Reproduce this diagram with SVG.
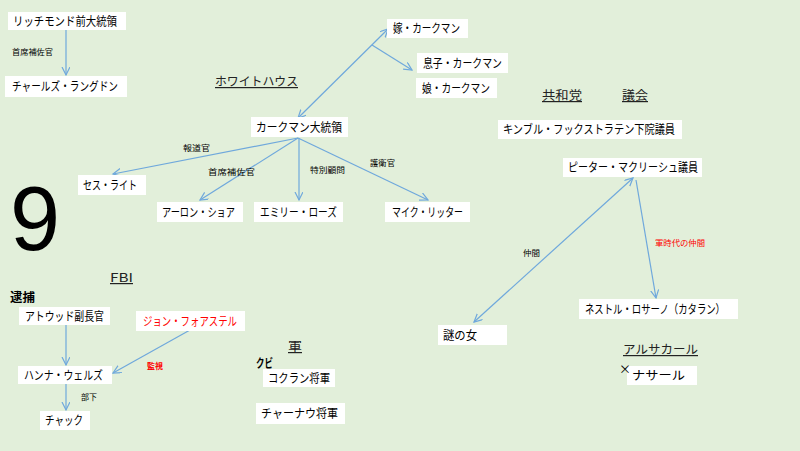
<svg xmlns="http://www.w3.org/2000/svg" width="800" height="451" viewBox="0 0 800 451">
<style>
.bx{fill:#ffffff;stroke:none}
.t{font-family:"Noto Sans CJK JP","Noto Sans",sans-serif;font-size:12px;fill:#000}
.h{font-family:"Noto Sans CJK JP","Noto Sans",sans-serif;font-size:12px;fill:#222;text-decoration:underline}
.s{font-family:"Noto Sans CJK JP","Noto Sans",sans-serif;font-size:8px;fill:#000}
.r{fill:#ff0000}
.c{stroke:#6fa8dc;stroke-width:1.2;fill:none}
</style>
<defs>
<marker id="ah" markerWidth="10" markerHeight="10" refX="8" refY="4" orient="auto-start-reverse" markerUnits="userSpaceOnUse">
<path d="M0,0 L8,4 L0,8" fill="none" stroke="#6fa8dc" stroke-width="1.2"/>
</marker>
</defs>
<rect width="800" height="451" fill="#e2efda"/>

<text x="10" y="250" font-family="Liberation Sans,Arial,sans-serif" font-size="90" fill="#000">9</text>

<g id="connectors">
<line class="c" x1="66" y1="30" x2="66" y2="75" marker-end="url(#ah)"/>
<line class="c" x1="298" y1="118" x2="388" y2="29" marker-start="url(#ah)" marker-end="url(#ah)"/>
<line class="c" x1="372" y1="45" x2="412" y2="70" marker-end="url(#ah)"/>
<line class="c" x1="298" y1="138" x2="113" y2="174" marker-end="url(#ah)"/>
<line class="c" x1="298" y1="138" x2="200" y2="200" marker-end="url(#ah)"/>
<line class="c" x1="299" y1="138" x2="299" y2="200" marker-end="url(#ah)"/>
<line class="c" x1="298" y1="138" x2="428" y2="200" marker-end="url(#ah)"/>
<line class="c" x1="474" y1="322" x2="633" y2="178" marker-start="url(#ah)" marker-end="url(#ah)"/>
<line class="c" x1="636" y1="180" x2="656" y2="298" marker-end="url(#ah)"/>
<line class="c" x1="66" y1="325" x2="66" y2="365" marker-end="url(#ah)"/>
<line class="c" x1="66" y1="384" x2="66" y2="410" marker-end="url(#ah)"/>
<line class="c" x1="190" y1="330" x2="113" y2="373" marker-end="url(#ah)"/>
<text class="s" x="12" y="55" textLength="41" lengthAdjust="spacingAndGlyphs">首席補佐官</text>
<text class="s" x="183" y="151" textLength="27" lengthAdjust="spacingAndGlyphs">報道官</text>
<text class="s" x="208" y="175" textLength="47" lengthAdjust="spacingAndGlyphs">首席補佐官</text>
<text class="s" x="310" y="173" textLength="35" lengthAdjust="spacingAndGlyphs">特別顧問</text>
<text class="s" x="370" y="166" textLength="25" lengthAdjust="spacingAndGlyphs">護衛官</text>
<text class="s" x="523" y="256" textLength="17" lengthAdjust="spacingAndGlyphs">仲間</text>
<text class="s r" x="655" y="246" textLength="50" lengthAdjust="spacingAndGlyphs">軍時代の仲間</text>
<text class="s r" x="147" y="369" font-weight="bold" textLength="16" lengthAdjust="spacingAndGlyphs">監視</text>
<text class="s" x="81" y="400" textLength="16" lengthAdjust="spacingAndGlyphs">部下</text>
</g>

<g id="n-richmond"><rect class="bx" x="8" y="12" width="118" height="18"/><text class="t" x="13" y="26" textLength="104" lengthAdjust="spacingAndGlyphs">リッチモンド前大統領</text></g>
<g id="n-charles"><rect class="bx" x="5" y="76" width="122" height="21"/><text class="t" x="12" y="91" textLength="106" lengthAdjust="spacingAndGlyphs">チャールズ・ラングドン</text></g>
<g id="n-yome"><rect class="bx" x="387" y="19" width="81" height="19"/><text class="t" x="393" y="33" textLength="67" lengthAdjust="spacingAndGlyphs">嫁・カークマン</text></g>
<g id="n-musuko"><rect class="bx" x="417" y="53" width="91" height="20"/><text class="t" x="423" y="68" textLength="79" lengthAdjust="spacingAndGlyphs">息子・カークマン</text></g>
<g id="n-musume"><rect class="bx" x="416" y="78" width="81" height="20"/><text class="t" x="422" y="93" textLength="68" lengthAdjust="spacingAndGlyphs">娘・カークマン</text></g>
<g id="n-kirkman"><rect class="bx" x="251" y="117" width="97" height="20"/><text class="t" x="256" y="132" textLength="86" lengthAdjust="spacingAndGlyphs">カークマン大統領</text></g>
<g id="n-seth"><rect class="bx" x="78" y="175" width="68" height="20"/><text class="t" x="83" y="190" textLength="54" lengthAdjust="spacingAndGlyphs">セス・ライト</text></g>
<g id="n-aaron"><rect class="bx" x="157" y="202" width="86" height="20"/><text class="t" x="162" y="217" textLength="73" lengthAdjust="spacingAndGlyphs">アーロン・ショア</text></g>
<g id="n-emily"><rect class="bx" x="254" y="202" width="89" height="20"/><text class="t" x="260" y="217" textLength="77" lengthAdjust="spacingAndGlyphs">エミリー・ローズ</text></g>
<g id="n-mike"><rect class="bx" x="385" y="202" width="85" height="20"/><text class="t" x="392" y="217" textLength="71" lengthAdjust="spacingAndGlyphs">マイク・リッター</text></g>
<g id="n-kimble"><rect class="bx" x="498" y="120" width="184" height="19"/><text class="t" x="503" y="134" textLength="172" lengthAdjust="spacingAndGlyphs">キンブル・フックストラテン下院議員</text></g>
<g id="n-peter"><rect class="bx" x="563" y="158" width="139" height="19"/><text class="t" x="568" y="172" textLength="130" lengthAdjust="spacingAndGlyphs">ピーター・マクリーシュ議員</text></g>
<g id="n-nestor"><rect class="bx" x="579" y="299" width="159" height="20"/><text class="t" x="585" y="314" textLength="140" lengthAdjust="spacingAndGlyphs">ネストル・ロサーノ（カタラン）</text></g>
<g id="n-nazo"><rect class="bx" x="438" y="325" width="69" height="20"/><text class="t" x="443" y="340" textLength="34" lengthAdjust="spacingAndGlyphs">謎の女</text></g>
<g id="n-atwood"><rect class="bx" x="19" y="307" width="91" height="18"/><text class="t" x="25" y="321" textLength="79" lengthAdjust="spacingAndGlyphs">アトウッド副長官</text></g>
<g id="n-john"><rect class="bx" x="136" y="311" width="109" height="20"/><text class="t r" x="143" y="326" textLength="94" lengthAdjust="spacingAndGlyphs">ジョン・フォアステル</text></g>
<g id="n-hannah"><rect class="bx" x="18" y="366" width="94" height="18"/><text class="t" x="24" y="380" textLength="79" lengthAdjust="spacingAndGlyphs">ハンナ・ウェルズ</text></g>
<g id="n-chuck"><rect class="bx" x="40" y="411" width="50" height="19"/><text class="t" x="45" y="425" textLength="38" lengthAdjust="spacingAndGlyphs">チャック</text></g>
<g id="n-cochrane"><rect class="bx" x="263" y="369" width="72" height="18"/><text class="t" x="268" y="383" textLength="62" lengthAdjust="spacingAndGlyphs">コクラン将軍</text></g>
<g id="n-chernow"><rect class="bx" x="256" y="403" width="89" height="21"/><text class="t" x="261" y="418" textLength="77" lengthAdjust="spacingAndGlyphs">チャーナウ将軍</text></g>
<g id="n-nasar"><rect class="bx" x="627" y="366" width="70" height="19"/><text class="t" x="632" y="380" textLength="53" lengthAdjust="spacingAndGlyphs">ナサール</text></g>

<g id="headings">
<text class="h" x="215" y="86" textLength="83" lengthAdjust="spacingAndGlyphs">ホワイトハウス</text>
<text class="h" x="542" y="100" textLength="40" lengthAdjust="spacingAndGlyphs">共和党</text>
<text class="h" x="622" y="100" textLength="26" lengthAdjust="spacingAndGlyphs">議会</text>
<text class="h" x="110" y="282" textLength="23" lengthAdjust="spacingAndGlyphs">FBI</text>
<text class="h" x="623" y="354" textLength="75" lengthAdjust="spacingAndGlyphs">アルサカール</text>
<text class="h" x="288" y="351" textLength="14" lengthAdjust="spacingAndGlyphs">軍</text>
<text class="t" x="10" y="302" font-weight="bold" textLength="25" lengthAdjust="spacingAndGlyphs">逮捕</text>
<text class="t" x="256" y="368" font-weight="bold" font-size="11" textLength="17" lengthAdjust="spacingAndGlyphs">クビ</text>
<text class="t" x="619" y="374" font-size="11">×</text>
</g>
</svg>
